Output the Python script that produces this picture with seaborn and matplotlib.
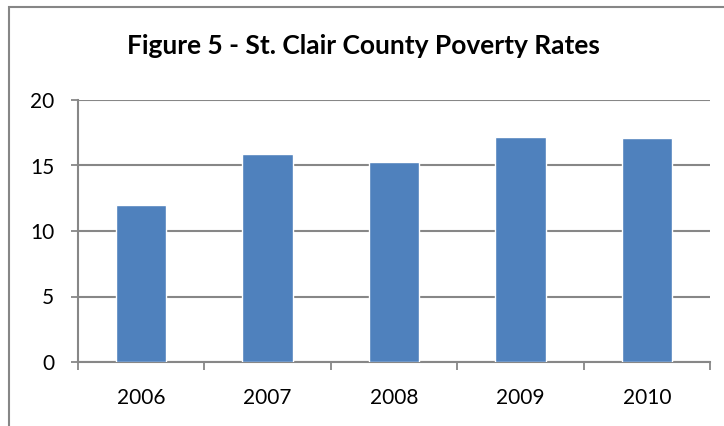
import matplotlib
matplotlib.use("Agg")
import matplotlib.pyplot as plt
import seaborn as sns
import pandas as pd
from matplotlib.patches import Rectangle

years = ["2006", "2007", "2008", "2009", "2010"]
rates = [12.0, 15.9, 15.3, 17.2, 17.1]
title = "Figure 5 - St. Clair County Poverty Rates"

sns.set_theme(style="white")
plt.rcParams['font.family'] = ['Lato', 'DejaVu Sans']

df = pd.DataFrame({"year": years, "rate": rates})

fig = plt.figure(figsize=(7.24, 4.26), dpi=100)
ax = fig.add_axes([78/724, 1-362/426, (710-78)/724, (362-100)/426])

grid_c = "#878787"
sns.barplot(data=df, x="year", y="rate", color="#4F81BD", width=0.4,
            saturation=1, ax=ax, zorder=3)

ax.set_ylim(0, 20)
ax.set_xlim(-0.5, 4.5)
ax.set_yticks([0, 5, 10, 15, 20])
ax.yaxis.grid(True, color=grid_c, linewidth=1.5, zorder=0)
ax.set_axisbelow(True)
ax.set_xlabel("")
ax.set_ylabel("")
for s in ["top", "right"]:
    ax.spines[s].set_visible(False)
for s in ["left", "bottom"]:
    ax.spines[s].set_color(grid_c)
    ax.spines[s].set_linewidth(1.5)

ax.set_xticks([i - 0.5 for i in range(len(years) + 1)], minor=True)
ax.tick_params(axis="x", which="minor", length=6, width=1.3, color=grid_c,
               direction="out", bottom=True)
ax.tick_params(axis="x", which="major", length=0, pad=19, labelsize=15,
               labelcolor="black")
ax.tick_params(axis="y", which="major", length=5, width=1.3, color=grid_c,
               direction="out", left=True, pad=12, labelsize=15,
               labelcolor="black")

fig.text(363/724, 1-46/426, title, ha="center", va="center",
         fontsize=19, fontweight="bold", color="black")

fig.patches.append(Rectangle((9/724, -0.1), 1.2, 1-7/426 + 0.1,
                             transform=fig.transFigure, fill=False,
                             edgecolor="#868686", linewidth=1.5))

fig.savefig("out.png", dpi=100)
